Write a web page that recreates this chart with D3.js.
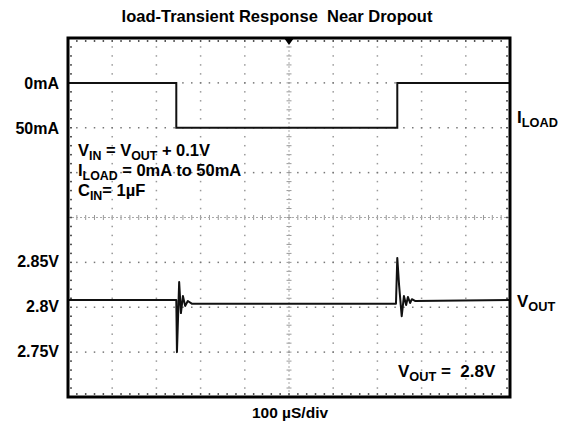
<!DOCTYPE html>
<html>
<head>
<meta charset="utf-8">
<script src="https://cdn.jsdelivr.net/npm/d3@7"></script>
<style>
  body { margin: 0; background: #fff; }
  text { font-family: "Liberation Sans", Arial, sans-serif; font-weight: bold; fill: #000; white-space: pre; }
</style>
</head>
<body>
<svg id="chart" width="564" height="432"></svg>
<script>
// scope trace data (time in µs, 100 µs/div)
var loadTime = [0, 245, 245, 745, 745, 1000];
var loadMA = [0, 0, 50, 50, 0, 0];

var voutTime = [0, 245, 246.5, 251.5, 255.5, 260, 265, 271, 280, 742, 745, 749, 755, 760, 765, 769, 774, 778, 785, 1000];
var voutV = [2.808, 2.808, 2.750, 2.828, 2.7935, 2.8125, 2.8015, 2.807, 2.804, 2.804, 2.855, 2.825, 2.790, 2.8125, 2.8025, 2.8115, 2.8047, 2.809, 2.807, 2.808];

var currentTicks = [0, 50];
var currentLabels = ["0mA", "50mA"];
var voltTicks = [2.85, 2.8, 2.75];
var voltLabels = ["2.85V", "2.8V", "2.75V"];

var svg = d3.select("#chart");
var x0 = 68, x1 = 510, y0 = 38, y1 = 397;
var xDivs = 10, yDivs = 8, minorPerDiv = 5;

var x = d3.scaleLinear().domain([0, 1000]).range([x0, x1]);
var xDiv = d3.scaleLinear().domain([0, xDivs]).range([x0, x1]);
var yDiv = d3.scaleLinear().domain([0, yDivs]).range([y0, y1]);
var yI = d3.scaleLinear().domain([0, 50]).range([yDiv(1), yDiv(2)]);
var yV = d3.scaleLinear().domain([2.75, 2.85]).range([yDiv(7), yDiv(5)]);

var g = svg.append("g");

// dotted graticule
var minorX = d3.range(0, xDivs * minorPerDiv + 1).map(function(i) { return xDiv(i / minorPerDiv); });
var minorY = d3.range(0, yDivs * minorPerDiv + 1).map(function(i) { return yDiv(i / minorPerDiv); });

d3.range(1, xDivs).forEach(function(k) {
  if (k == xDivs / 2) return;
  g.selectAll(null).data(minorY.slice(1, -1)).enter().append("rect")
    .attr("x", xDiv(k) - 0.75).attr("y", function(d) { return d - 0.75; })
    .attr("width", 1.5).attr("height", 1.5).attr("fill", "#999");
});
d3.range(1, yDivs).forEach(function(k) {
  if (k == yDivs / 2) return;
  g.selectAll(null).data(minorX.slice(1, -1)).enter().append("rect")
    .attr("x", function(d) { return d - 0.75; }).attr("y", yDiv(k) - 0.75)
    .attr("width", 1.5).attr("height", 1.5).attr("fill", "#777");
});

// center axes with tick marks
var cx = xDiv(xDivs / 2), cy = yDiv(yDivs / 2);
g.selectAll(null).data(minorX.slice(1, -1)).enter().append("line")
  .attr("x1", function(d) { return d; }).attr("x2", function(d) { return d; })
  .attr("y1", cy - 2.5).attr("y2", cy + 2.5).attr("stroke", "#999").attr("stroke-width", 1);
g.append("line").attr("x1", x0).attr("x2", x1).attr("y1", cy).attr("y2", cy)
  .attr("stroke", "#aaa").attr("stroke-width", 1).attr("stroke-dasharray", "2,2");
g.selectAll(null).data(minorY.slice(1, -1)).enter().append("line")
  .attr("y1", function(d) { return d; }).attr("y2", function(d) { return d; })
  .attr("x1", cx - 2.5).attr("x2", cx + 2.5).attr("stroke", "#999").attr("stroke-width", 1);
g.append("line").attr("y1", y0).attr("y2", y1).attr("x1", cx).attr("x2", cx)
  .attr("stroke", "#aaa").attr("stroke-width", 1).attr("stroke-dasharray", "2,2");

// edge ticks just inside the frame
g.selectAll(null).data(minorX.slice(1, -1)).enter().append("rect")
  .attr("x", function(d) { return d - 0.75; }).attr("y", y0 + 2).attr("width", 1.5).attr("height", 2).attr("fill", "#555");
g.selectAll(null).data(minorX.slice(1, -1)).enter().append("rect")
  .attr("x", function(d) { return d - 0.75; }).attr("y", y1 - 4).attr("width", 1.5).attr("height", 2).attr("fill", "#555");
g.selectAll(null).data(minorY.slice(1, -1)).enter().append("rect")
  .attr("y", function(d) { return d - 0.75; }).attr("x", x0 + 2).attr("width", 2).attr("height", 1.5).attr("fill", "#555");
g.selectAll(null).data(minorY.slice(1, -1)).enter().append("rect")
  .attr("y", function(d) { return d - 0.75; }).attr("x", x1 - 4).attr("width", 2).attr("height", 1.5).attr("fill", "#555");

// traces
var loadLine = d3.line().x(function(d) { return x(d[0]); }).y(function(d) { return yI(d[1]); });
g.append("path").datum(d3.zip(loadTime, loadMA)).attr("d", loadLine)
  .attr("fill", "none").attr("stroke", "#111").attr("stroke-width", 2);

var voutLine = d3.line().x(function(d) { return x(d[0]); }).y(function(d) { return yV(d[1]); });
g.append("path").datum(d3.zip(voutTime, voutV)).attr("d", voutLine)
  .attr("fill", "none").attr("stroke", "#111").attr("stroke-width", 2).attr("stroke-linejoin", "round");

// frame
g.append("rect").attr("x", x0).attr("y", y0).attr("width", x1 - x0).attr("height", y1 - y0)
  .attr("fill", "none").attr("stroke", "#000").attr("stroke-width", 3);

// trigger marker
g.append("path").attr("d", "M" + (cx - 5) + "," + y0 + "L" + (cx + 5) + "," + y0 + "L" + cx + "," + (y0 + 7) + "Z")
  .attr("fill", "#000");

// left labels
svg.selectAll(".ilab").data(currentTicks).enter().append("text")
  .attr("x", 59).attr("y", function(d) { return yI(d) + 1; })
  .attr("dy", "0.35em").attr("text-anchor", "end").attr("font-size", 16)
  .text(function(d, i) { return currentLabels[i]; });
svg.selectAll(".vlab").data(voltTicks).enter().append("text")
  .attr("x", 59).attr("y", function(d) { return yV(d) - 1; })
  .attr("dy", "0.35em").attr("text-anchor", "end").attr("font-size", 16)
  .text(function(d, i) { return voltLabels[i]; });

function subText(xp, yp, parts, size) {
  var t = svg.append("text").attr("x", xp).attr("y", yp).attr("font-size", size);
  parts.forEach(function(p) {
    var s = t.append("tspan").text(p[0]);
    if (p[1] == "sub") s.attr("font-size", size * 0.75).attr("dy", 3.5);
    else if (p[1] == "up") s.attr("dy", -3.5);
  });
  return t;
}

// right labels
subText(517, 123, [["I"], ["LOAD", "sub"]], 17);
subText(517, 307, [["V"], ["OUT", "sub"]], 17);

// condition text
subText(78, 156, [["V"], ["IN", "sub"], [" = V", "up"], ["OUT", "sub"], [" + 0.1V", "up"]], 16.5);
subText(78, 176, [["I"], ["LOAD", "sub"], [" = 0mA to 50mA", "up"]], 16.5);
subText(78, 196, [["C"], ["IN", "sub"], ["= 1µF", "up"]], 16.5);
subText(398, 377, [["V"], ["OUT", "sub"], [" =  2.8V", "up"]], 17);

// title and time base
svg.append("text").attr("x", 277).attr("y", 22).attr("text-anchor", "middle").attr("font-size", 16.5)
  .text("load-Transient Response  Near Dropout");
svg.append("text").attr("x", 290).attr("y", 418).attr("text-anchor", "middle").attr("font-size", 15.5)
  .text("100 µS/div");
</script>
</body>
</html>
